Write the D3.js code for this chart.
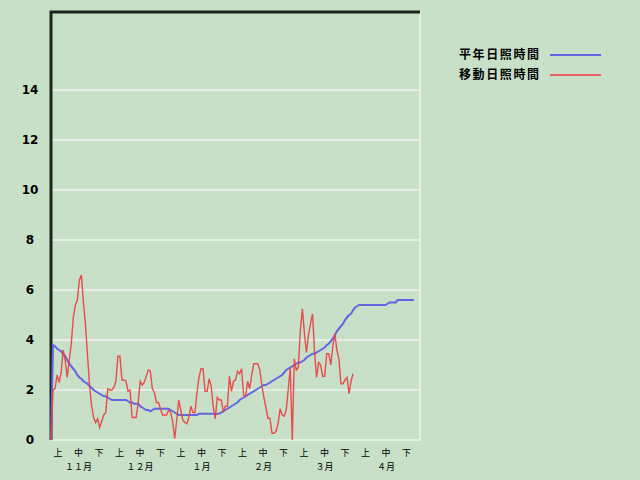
<!DOCTYPE html>
<html>
<head>
<meta charset="utf-8">
<script src="https://cdn.jsdelivr.net/npm/d3@7/dist/d3.min.js"></script>
<style>
  html, body { margin: 0; padding: 0; background: #c8e0c8; }
  svg { display: block; }
</style>
</head>
<body>
<svg id="chart" width="640" height="480"></svg>
<script>
// ---- data ----
const seriesNames = ["平年日照時間", "移動日照時間"];
const months = ["１１月", "１２月", "１月", "２月", "３月", "４月"];
const dekads = ["上", "中", "下"];
const yTicks = [0, 2, 4, 6, 8, 10, 12, 14];

// 平年日照時間 (daily, from Nov 1)
const normalHours = [
  0, 3.8, 3.75, 3.65, 3.6, 3.55, 3.45, 3.35, 3.2, 3.05,
  2.95, 2.85, 2.75, 2.6, 2.5, 2.45, 2.35, 2.3, 2.25, 2.15,
  2.1, 2.0, 1.95, 1.9, 1.85, 1.8, 1.75, 1.75, 1.7, 1.65,
  1.6, 1.6, 1.6, 1.6, 1.6, 1.6, 1.6, 1.6, 1.55, 1.5,
  1.5, 1.45, 1.45, 1.45, 1.35, 1.3, 1.25, 1.2, 1.2, 1.15,
  1.2, 1.25, 1.25, 1.25, 1.25, 1.25, 1.25, 1.25, 1.25, 1.2,
  1.15, 1.1, 1.05, 1.0, 1.0, 1.0, 1.0, 1.0, 1.0, 1.0,
  1.0, 1.0, 1.0, 1.05, 1.05, 1.05, 1.05, 1.05, 1.05, 1.05,
  1.05, 1.05, 1.05, 1.05, 1.1, 1.15, 1.2, 1.25, 1.3, 1.35,
  1.4, 1.45, 1.5, 1.6, 1.65, 1.7, 1.75, 1.8, 1.85, 1.9,
  1.95, 2.0, 2.05, 2.1, 2.15, 2.2, 2.2, 2.25, 2.3, 2.35,
  2.4, 2.45, 2.5, 2.55, 2.6, 2.7, 2.8, 2.85, 2.9, 2.95,
  3.0, 3.05, 3.1, 3.1, 3.15, 3.2, 3.3, 3.35, 3.4, 3.45,
  3.45, 3.5, 3.55, 3.6, 3.65, 3.7, 3.8, 3.85, 3.95, 4.05,
  4.2, 4.35, 4.45, 4.55, 4.65, 4.8, 4.9, 5.0, 5.05, 5.2,
  5.3, 5.35, 5.4, 5.4, 5.4, 5.4, 5.4, 5.4, 5.4, 5.4,
  5.4, 5.4, 5.4, 5.4, 5.4, 5.4, 5.45, 5.5, 5.5, 5.5,
  5.5, 5.6, 5.6, 5.6, 5.6, 5.6, 5.6, 5.6, 5.6, 5.6
];

// 移動日照時間 (daily, from Nov 1)
const movingHours = [
  0, 2.0, 2.05, 2.6, 2.3, 2.7, 3.6, 3.2, 2.5, 3.2,
  3.85, 4.9, 5.4, 5.6, 6.4, 6.6, 5.5, 4.6, 3.4, 2.2,
  1.4, 0.9, 0.7, 0.85, 0.5, 0.75, 1.0, 1.1, 2.05, 2.0,
  2.0, 2.1, 2.35, 3.35, 3.35, 2.4, 2.4, 2.35, 1.95, 2.0,
  0.9, 0.9, 0.9, 1.5, 2.35, 2.2, 2.3, 2.55, 2.8, 2.75,
  2.05, 1.9, 1.5, 1.5, 1.25, 1.0, 1.0, 1.0, 1.2, 1.1,
  0.75, 0.05, 0.8, 1.6, 1.2, 0.8, 0.7, 0.65, 0.9, 1.35,
  1.1, 1.1, 1.9, 2.5, 2.85, 2.85, 1.95, 1.95, 2.45, 2.15,
  1.35, 0.85, 1.7, 1.6, 1.6, 1.15, 1.35, 1.35, 2.55, 1.95,
  2.35, 2.4, 2.75, 2.65, 2.85, 1.8, 1.75, 2.35, 2.05, 2.6,
  3.05, 3.05, 3.05, 2.8, 2.2, 1.7, 1.3, 0.87, 0.87, 0.27,
  0.27, 0.35, 0.65, 1.25, 1.0, 0.95, 1.2, 2.0, 2.9, 0,
  3.25, 2.8, 2.9, 4.4, 5.25, 4.25, 3.5, 4.2, 4.65, 5.05,
  3.5, 2.5, 3.1, 3.0, 2.55, 2.55, 3.45, 3.45, 3.0, 3.75,
  4.25, 3.6, 3.25, 2.25, 2.25, 2.4, 2.5, 1.85, 2.35, 2.65
];

// ---- layout ----
const svg = d3.select("#chart");
const L = 51, R = 420, T = 11, B = 440;

const x = d3.scaleLinear().domain([0, 182]).range([L, R]);
const y = d3.scaleLinear().domain([0, 17.16]).range([B, T]);

const dekadKeys = [];
months.forEach((m, mi) => dekads.forEach((d, di) => dekadKeys.push({ m: mi, d: di, key: mi + "-" + di })));
const xd = d3.scaleBand().domain(dekadKeys.map(k => k.key)).range([L, R]);

svg.append("rect").attr("width", 640).attr("height", 480).attr("fill", "#c8e0c8");

// gridlines
svg.append("g").selectAll("line").data(yTicks).join("line")
  .attr("x1", L).attr("x2", R)
  .attr("y1", d => y(d)).attr("y2", d => y(d))
  .attr("stroke", "#e4eee4").attr("stroke-width", 2);

// right border (light)
svg.append("line").attr("x1", R).attr("x2", R).attr("y1", T).attr("y2", B + 1)
  .attr("stroke", "#e4eee4").attr("stroke-width", 2);

// y labels
svg.append("g").selectAll("text").data(yTicks).join("text")
  .attr("x", 30).attr("y", d => y(d))
  .attr("dy", "0.36em")
  .attr("text-anchor", "middle")
  .attr("font-family", "'DejaVu Sans', sans-serif")
  .attr("font-weight", "bold")
  .attr("font-size", 12)
  .attr("fill", "#000")
  .text(d => d);

// x labels: dekads
svg.append("g").selectAll("text").data(dekadKeys).join("text")
  .attr("x", d => xd(d.key) + 7)
  .attr("y", 456)
  .attr("text-anchor", "middle")
  .attr("font-family", "'Noto Sans CJK JP', sans-serif")
  .attr("font-size", 9)
  .attr("fill", "#000")
  .text(d => dekads[d.d]);

// x labels: months
svg.append("g").selectAll("text").data(months).join("text")
  .attr("x", (d, i) => xd(i + "-1") + 7)
  .attr("y", 469.5)
  .attr("text-anchor", "middle")
  .attr("font-family", "'Noto Sans CJK JP', sans-serif")
  .attr("font-size", 9)
  .attr("fill", "#000")
  .text(d => d);

// dark frame (left & top)
svg.append("path")
  .attr("d", `M${L},${B} L${L},${T + 1} L${R},${T + 1}`)
  .attr("fill", "none").attr("stroke", "#1c261c").attr("stroke-width", 3);

const line = d3.line().x((d, i) => x(i)).y(d => y(d));

svg.append("path").datum(normalHours)
  .attr("d", line).attr("fill", "none")
  .attr("stroke", "#6464e6").attr("stroke-width", 2);

svg.append("path").datum(movingHours)
  .attr("d", line).attr("fill", "none")
  .attr("stroke", "#ec3c3c").attr("stroke-width", 1.4).attr("stroke-opacity", 0.9);

// legend
const colors = ["#6464e6", "#e86464"];
const lg = svg.append("g");
seriesNames.forEach((name, i) => {
  const yy = 55 + i * 20;
  lg.append("text")
    .attr("x", 459).attr("y", yy).attr("dy", "0.36em")
    .attr("font-family", "'Noto Sans CJK JP', sans-serif")
    .attr("font-weight", "bold")
    .attr("font-size", 12)
    .attr("letter-spacing", "1.6px")
    .attr("fill", "#000")
    .text(name);
  lg.append("line")
    .attr("x1", 550).attr("x2", 601).attr("y1", yy).attr("y2", yy)
    .attr("stroke", colors[i]).attr("stroke-width", 2);
});
</script>
</body>
</html>
